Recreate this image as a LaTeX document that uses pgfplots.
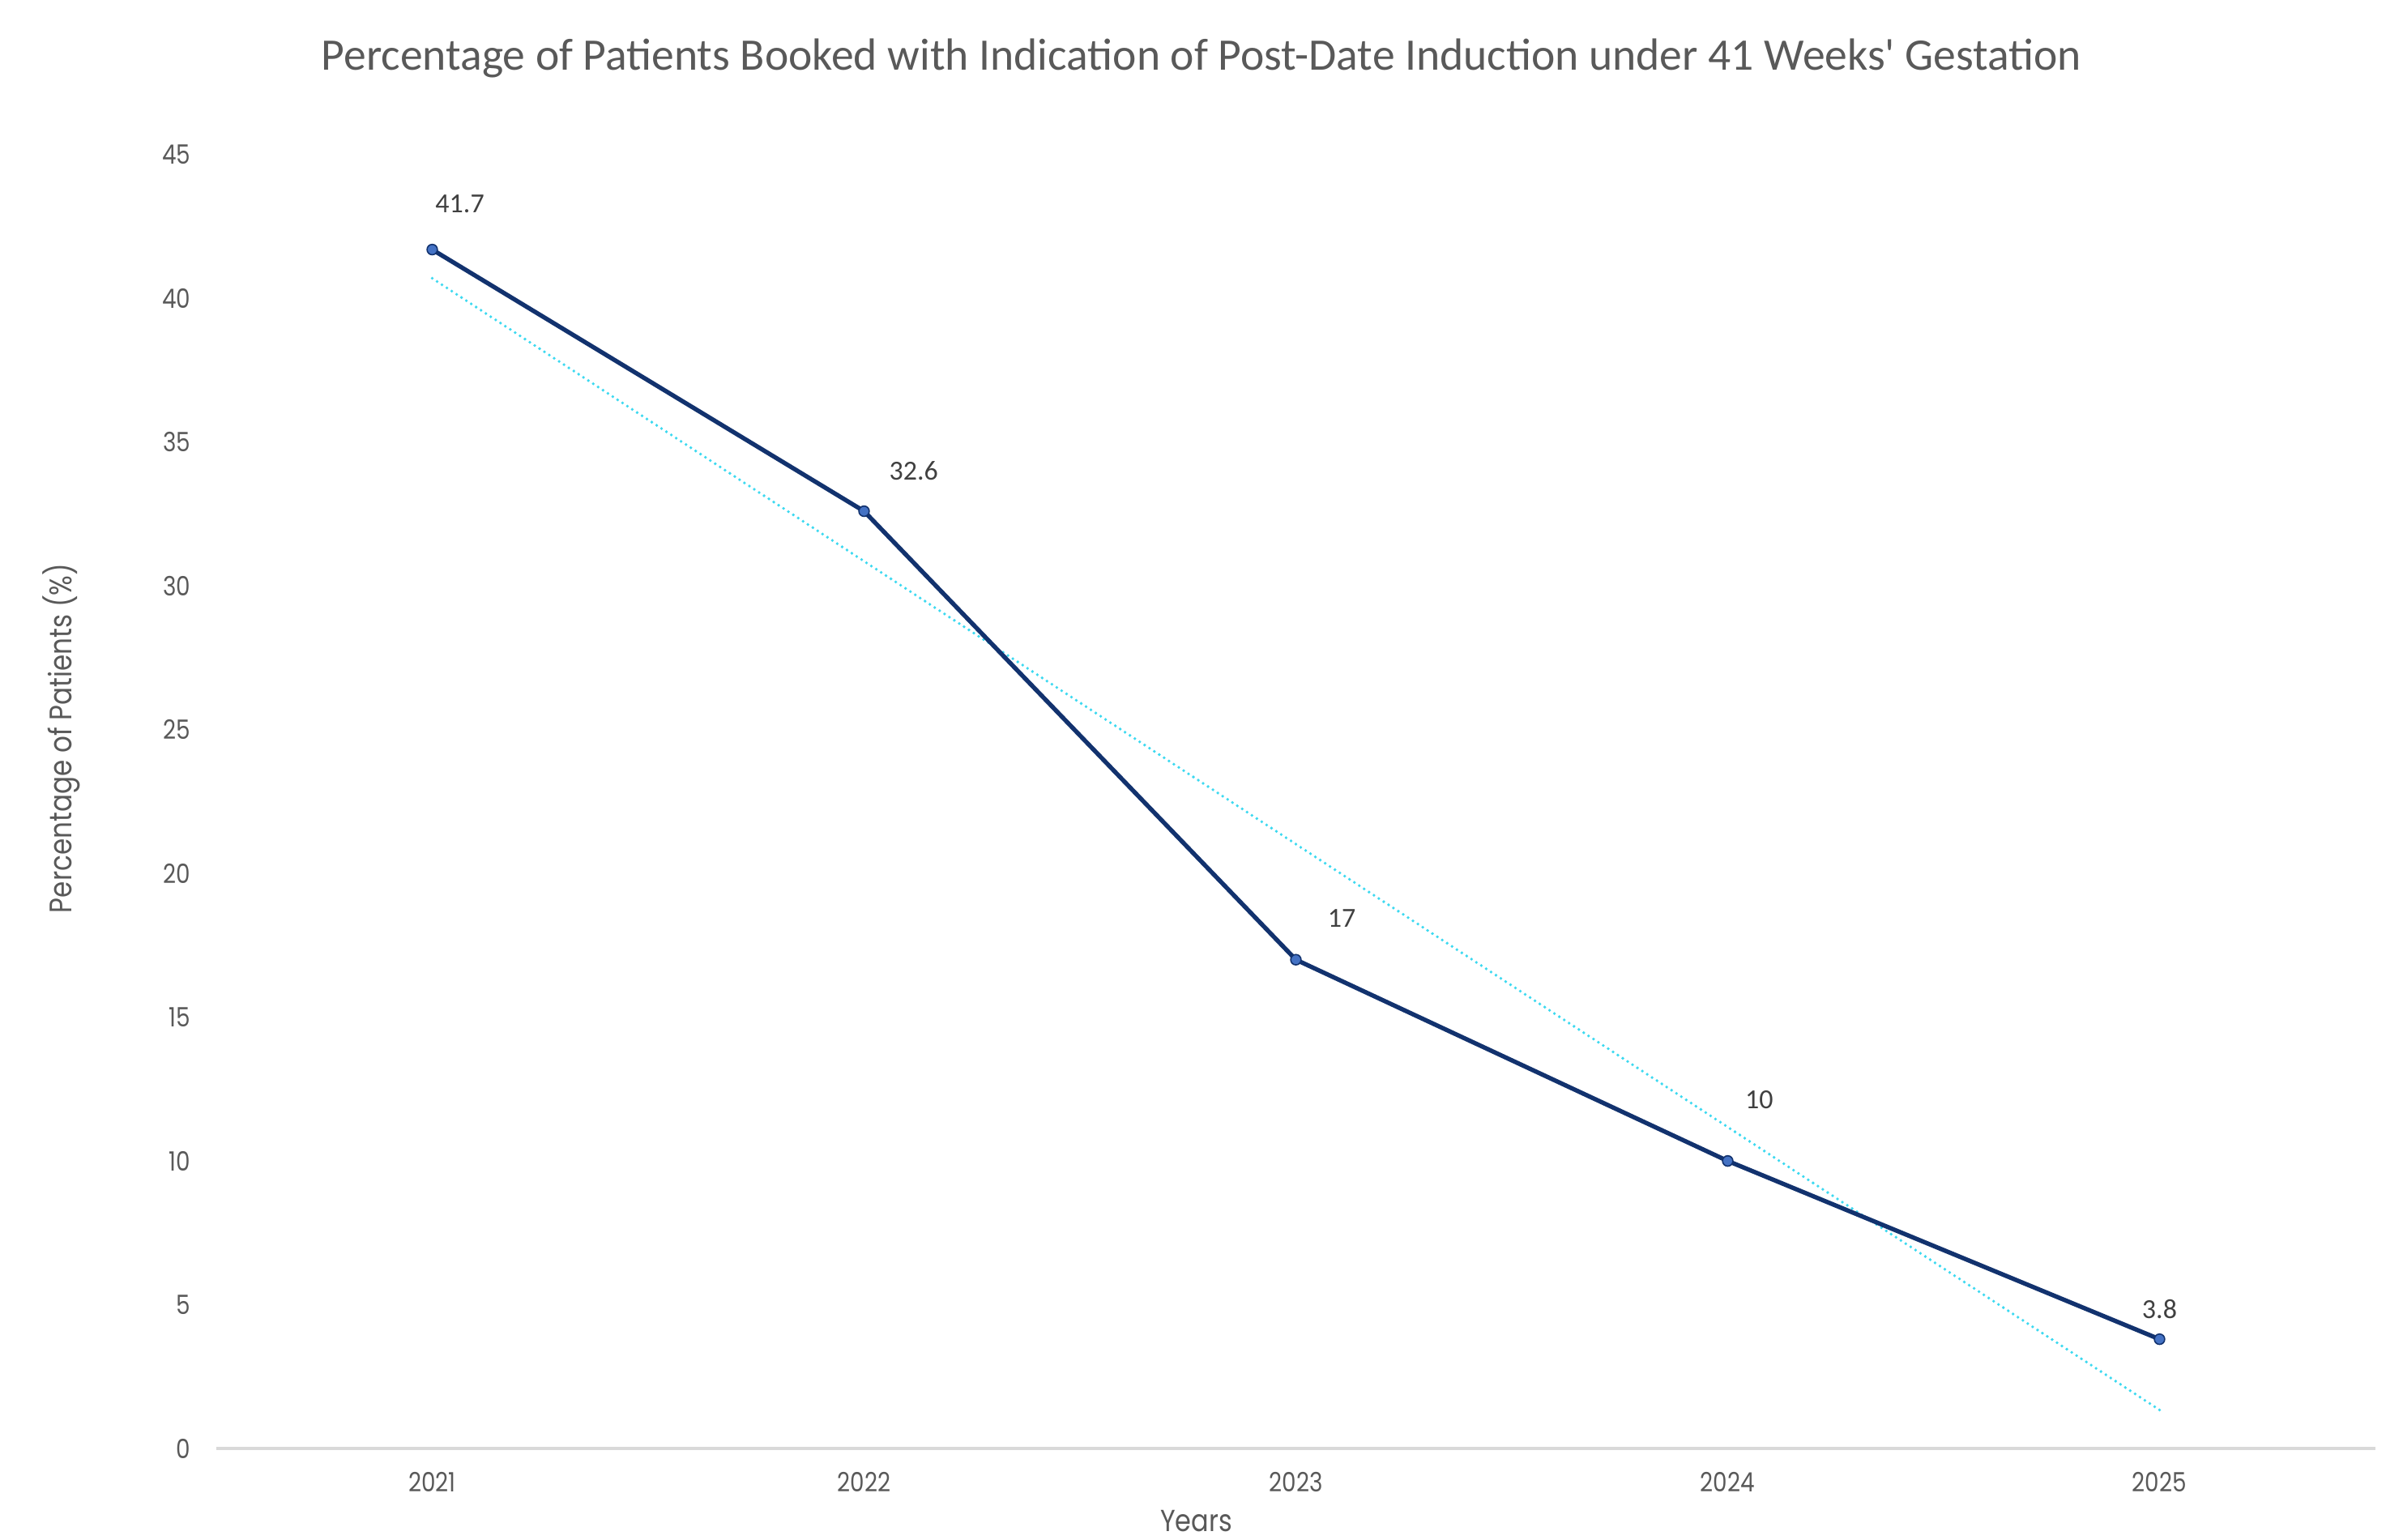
\documentclass[border=0pt]{standalone}
\usepackage{fontspec}
\usepackage{pgfplots}
\pgfplotsset{compat=1.18}
\setmainfont{Carlito}
\newfontfamily\pop{Poppins}[FakeStretch=0.85]

\definecolor{navy}{RGB}{18,50,110}
\definecolor{markfill}{RGB}{68,114,196}
\definecolor{trend}{RGB}{61,217,240}
\definecolor{ticktext}{RGB}{89,89,89}
\definecolor{labeltext}{RGB}{64,64,64}
\definecolor{axisgray}{RGB}{217,217,217}

\begin{document}
\begin{tikzpicture}
% page: 2966x1901 px at 0.25pt per px
\useasboundingbox (-66.75pt,-28.25pt) rectangle (674.75pt,447pt);
\begin{axis}[
    at={(0pt,0pt)}, anchor=south west,
    scale only axis,
    width=666.25pt, height=399.25pt,
    xmin=2020.5, xmax=2025.5,
    ymin=0, ymax=45,
    xtick={2021,2022,2023,2024,2025},
    ytick={0,5,...,45},
    xticklabel style={/pgf/number format/1000 sep={}},
    /pgf/number format/assume math mode=true,
    axis x line=bottom, axis y line=left,
    x axis line style={-, draw=axisgray, line width=1pt},
    y axis line style={draw=none},
    major tick length=0pt,
    tick label style={font=\pop\fontsize{8.2}{10}\selectfont, text=ticktext, inner sep=0pt},
    xticklabel style={anchor=base, yshift=-13.5pt},
    yticklabel style={anchor=east, xshift=-7.75pt},
    xlabel={Years},
    ylabel={Percentage of Patients (\%)},
    every axis x label/.style={at={(rel axis cs:0.4539,-0.0645)}, anchor=base,
        font=\pop\fontsize{9.4}{11}\selectfont, text=ticktext, inner sep=0pt},
    every axis y label/.style={at={(rel axis cs:-0.0717,0.549)}, rotate=90, anchor=center,
        font=\pop\fontsize{9.6}{11}\selectfont, text=ticktext, inner sep=0pt},
    clip=false,
]
% linear trend line (least squares fit of the five values)
\addplot[trend, line width=0.95pt, line cap=round, dash pattern=on 0pt off 1.8pt]
    coordinates {(2021,40.70) (2025,1.34)};
\addplot[navy, line width=1.35pt, mark=*, mark size=1.6pt,
    mark options={fill=markfill, draw=navy, line width=0.4pt}]
    coordinates {
    (2021,41.7)
    (2022,32.6)
    (2023,17)
    (2024,10)
    (2025,3.8)
};
\begin{scope}[every node/.style={font=\fontsize{8.5}{10}\selectfont, text=labeltext, inner sep=0pt, anchor=center}]
\node at (axis cs:2021.064,43.28) {41.7};
\node at (axis cs:2022.115,34.01) {32.6};
\node at (axis cs:2023.106,18.43) {17};
\node at (axis cs:2024.073,12.14) {10};
\node at (axis cs:2025.000,4.85) {3.8};
\end{scope}
\end{axis}
\node[anchor=base, font=\fontsize{13.9}{16}\selectfont, text=ticktext] at (304pt,425.25pt)
    {Percentage of Patients Booked with Indication of Post-Date Induction under 41 Weeks\textquotesingle{} Gestation};
\end{tikzpicture}
\end{document}
